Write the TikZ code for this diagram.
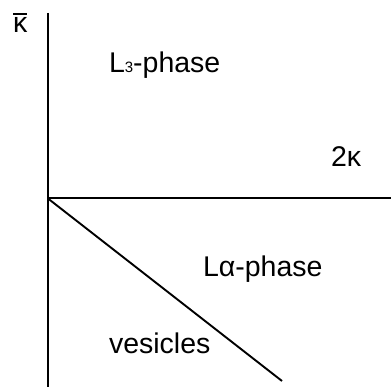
\documentclass[tikz,border=0pt]{standalone}
\usepackage{fontspec}
\setmainfont{Liberation Sans}
\begin{document}
\begin{tikzpicture}[x=1pt,y=-1pt,
  axis/.style={line width=1.9pt,line cap=butt},
  bar/.style={line width=1.6pt},
  lbl/.style={inner sep=0pt,outer sep=0pt,anchor=base west,font=\fontsize{28.5}{31}\selectfont}]
\useasboundingbox (0,0) rectangle (391,387);
\coordinate (top) at (47.7,13);
\coordinate (bot) at (47.7,387);
\coordinate (o) at (47.7,198.3);
\coordinate (right) at (391,198.3);
\coordinate (dend) at (282,381);
\draw[axis] (top) -- (bot);
\draw[axis] (o) -- (right);
\draw[axis] (o) -- (dend);
\node[lbl] (kb) at (13,33) {κ};
\draw[bar] ([yshift=19pt]kb.base west) -- ([yshift=19pt]kb.base east);
\node[lbl] (l3) at (109,73) {L{\fontsize{15}{15}\selectfont 3}-phase};
\node[lbl] (tk) at (331,167) {2κ};
\node[lbl] (la) at (203,277) {Lα-phase};
\node[lbl] (ves) at (109,354) {vesicles};
\end{tikzpicture}
\end{document}
